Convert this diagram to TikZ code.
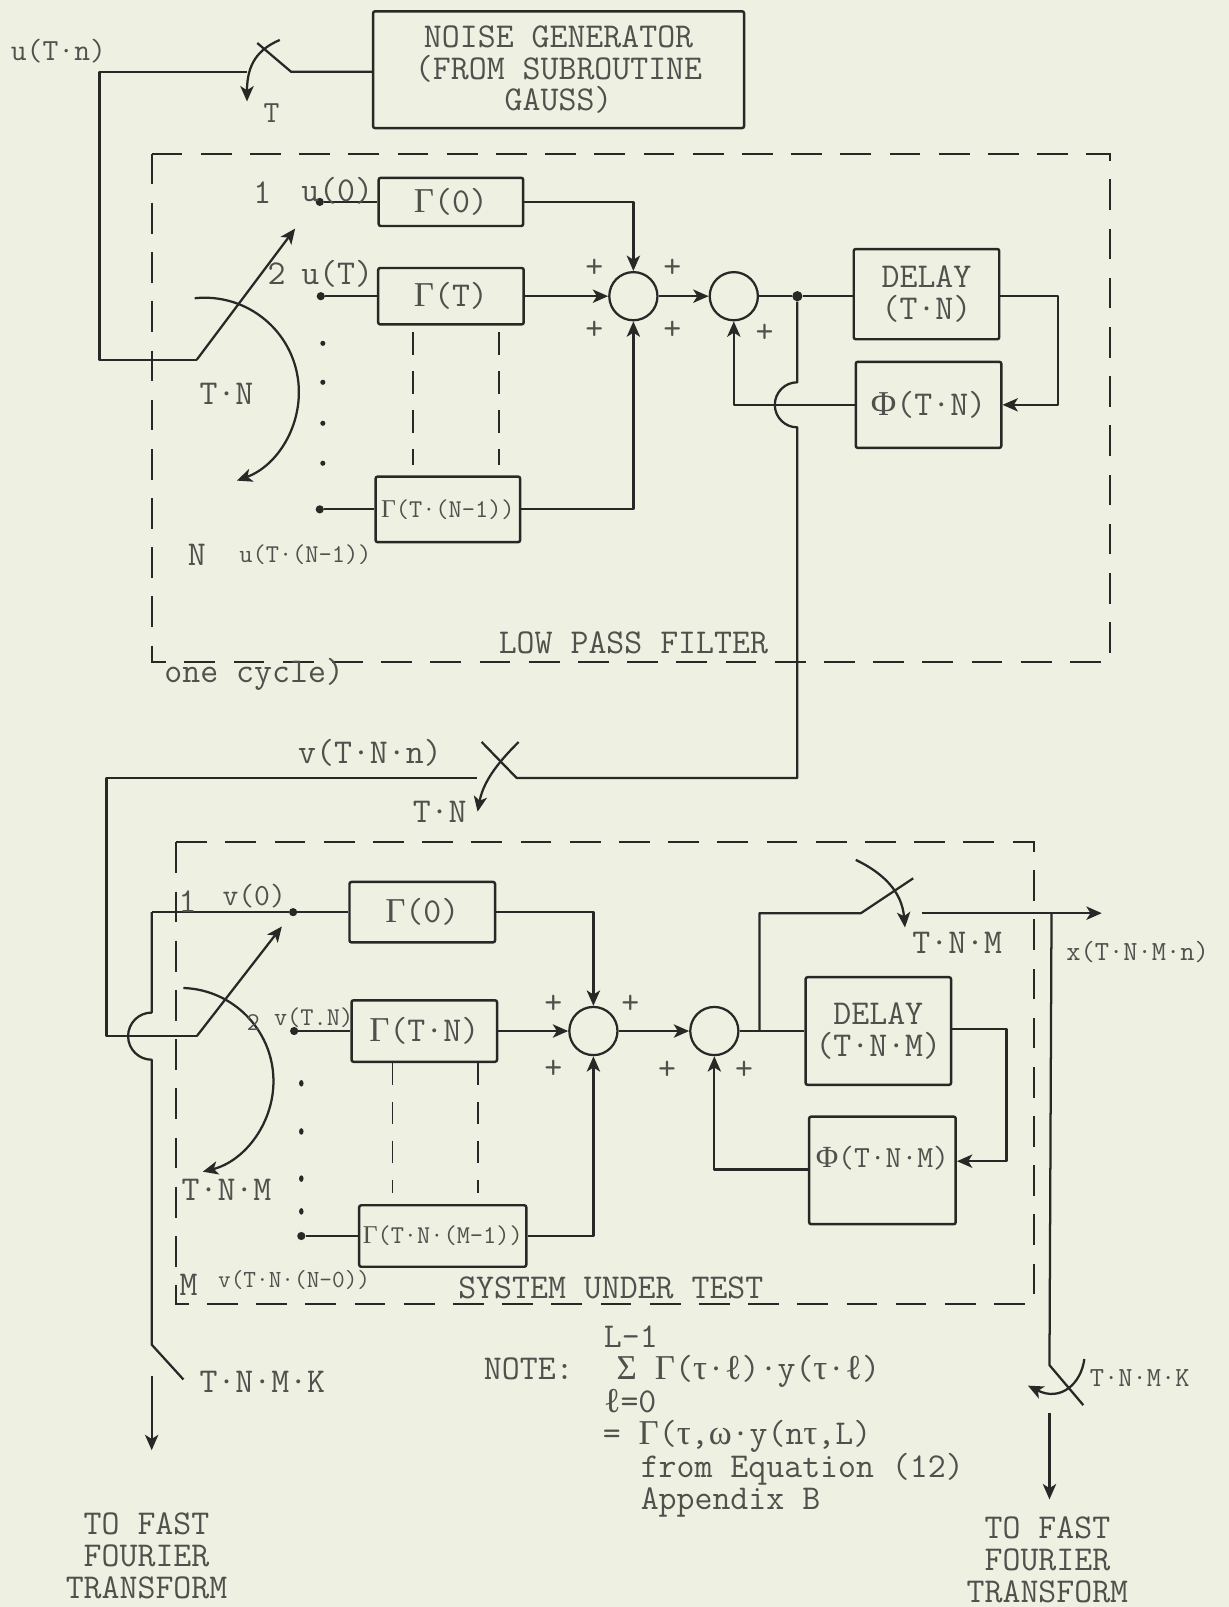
\documentclass[tikz,border=0pt]{standalone}
\usepackage{fontspec}
\newfontfamily\grk{Liberation Serif}
\usetikzlibrary{arrows.meta}
\definecolor{bgc}{RGB}{238,240,226}
\definecolor{ink}{RGB}{40,40,38}
\definecolor{txt}{RGB}{80,80,76}
\newcommand\fbig{\fontsize{34}{31}\selectfont\ttfamily}
\newcommand\fmid{\fontsize{30}{31}\selectfont\ttfamily}
\newcommand\fsm{\fontsize{25}{27}\selectfont\ttfamily}
\newcommand\fxs{\fontsize{27}{29}\selectfont\ttfamily}
\newcommand\Gm{{\grk Γ}}
\newcommand\Ph{{\grk Φ}}
\newcommand\Sg{{\grk Σ}}
\newcommand\ta{{\grk τ}}
\newcommand\om{{\grk ω}}
\newcommand\el{{\grk ℓ}}
\begin{document}
\begin{tikzpicture}[x=1pt,y=-1pt,
  wire/.style={draw=ink,line width=2.2pt,line join=round},
  arr/.style={wire,-{Stealth[length=15pt,width=13pt,inset=4pt]}},
  blk/.style={draw=ink,line width=2.4pt,rounded corners=2pt,inner sep=0pt,text=txt,font=\fbig,align=center},
  sumj/.style={circle,draw=ink,line width=2.2pt,minimum size=47pt,inner sep=0pt},
  lbl/.style={text=txt,font=\fbig,inner sep=0pt,align=center},
  dbox/.style={draw=ink,line width=2pt,dash pattern=on 30pt off 18pt},
  dline/.style={draw=ink,line width=1.8pt,dash pattern=on 22pt off 16pt},
  term/.style={circle,fill=ink,minimum size=8pt,inner sep=0pt},
]
\fill[bgc] (0,0) rectangle (1199,1568);
\useasboundingbox (0,0) rectangle (1199,1568);

% ---------- top: noise generator and sampler ----------
\node[blk,minimum width=362pt,minimum height=114pt] (noise) at (545,68) {NOISE GENERATOR\\(FROM SUBROUTINE\\GAUSS)};
\coordinate (tl) at (97,70);
\coordinate (tsw) at (241,70);
\coordinate (tpiv) at (284,70);
\coordinate (tbl) at (251,42);
\coordinate (p1) at (192,351);
\coordinate (p1t) at (288,223);
\draw[wire] (noise.west |- tpiv) -- (tpiv) -- (tbl);
\draw[wire] (tsw) -- (tl) -- (97,351) -- (p1);
\coordinate (ta0) at (273,39);
\coordinate (ta1) at (241,99);
\draw[arr] (ta0) .. controls (252,48) and (241,62) .. (ta1);
\node[lbl,font=\fmid] (lut) at (57,50) {u(T·n)};
\node[lbl,font=\fmid] (lT) at (265,110) {T};

% ---------- low pass filter ----------
\draw[dbox] (148,150) rectangle (1083,646);
\node[lbl] (llpf) at (618,627) {LOW PASS FILTER};
\node[lbl] (lcyc) at (248,658) {one cycle)};

\node[blk,minimum width=141pt,minimum height=47pt] (ga0) at (440,197) {\Gm(0)};
\node[blk,minimum width=142pt,minimum height=55pt] (ga1) at (440,289) {\Gm(T)};
\node[blk,minimum width=141pt,minimum height=64pt,font=\fsm] (ga2) at (437,497) {\Gm(T·(N-1))};
\node[term] (a0) at (312,197) {};
\node[term] (a1) at (313,289) {};
\node[term] (a2) at (312,497) {};
\draw[wire] (a0) -- (ga0);
\draw[wire] (a1) -- (ga1);
\draw[wire] (a2) -- (ga2);
\node[lbl] (l1) at (256,188) {1};
\node[lbl] (lu0) at (329,186) {u(0)};
\node[lbl] (l2) at (270,267) {2};
\node[lbl] (luT) at (329,267) {u(T)};
\node[lbl] (lN) at (192,541) {N};
\node[lbl,font=\fsm] (luN) at (298,541) {u(T·(N-1))};
\node[lbl] (lTN) at (221,384) {T·N};
\foreach \yy in {335,373,413,452} \fill[ink] (315,\yy) circle (2.5pt);
\draw[dline] (403,324) -- (403,454);
\draw[dline] (487,324) -- (487,454);
\draw[arr] (p1) -- (p1t);
\draw[arr] (190,291) arc[start angle=96,end angle=-70,radius=92pt];

\node[sumj] (s1) at (618,289) {};
\node[sumj] (s2) at (716,289) {};
\draw[arr] (ga0.east) -| (s1.north);
\draw[arr] (ga1) -- (s1);
\draw[arr] (ga2.east) -| (s1.south);
\draw[arr] (s1) -- (s2);
\foreach \xx/\yy in {580/262,656/262,580/322,656/322,746/325} \node[lbl] at (\xx,\yy) {+};
\node[term,minimum size=10pt] (j1) at (778,289) {};
\node[blk,minimum width=142pt,minimum height=88pt] (dl1) at (904,287) {DELAY\\(T·N)};
\node[blk,minimum width=142pt,minimum height=84pt] (ph1) at (906,395) {\Ph(T·N)};
\draw[wire] (s2) -- (j1) -- (dl1.west |- j1);
\coordinate (c1) at (1032,289);
\draw[arr] (dl1.east |- c1) -- (c1) |- (ph1.east);
\coordinate (f1) at (716,395);
\draw[arr] (ph1.west) -- (f1) -- (s2.south);

% ---------- sampler between the blocks ----------
\coordinate (lpiv) at (504,759);
\coordinate (lbld) at (470,724);
\coordinate (lsw) at (465,759);
\coordinate (p2) at (192,1011);
\coordinate (p2t) at (275,904);
\draw[wire] (j1) -- (778,373) arc[start angle=90,end angle=270,radius=22pt] -- (778,759) -- (lpiv) -- (lbld);
\draw[wire] (lsw) -- (104,759) -- (104,1011) -- (p2);
\draw[arr] (506,724) .. controls (490,740) and (472,760) .. (466,792);
\node[lbl] (lvn) at (361,735) {v(T·N·n)};
\node[lbl] (lTN2) at (429,792) {T·N};

% ---------- system under test ----------
\draw[dbox] (172,822) rectangle (1009,1272);
\node[lbl] (lsut) at (596,1257) {SYSTEM UNDER TEST};

\coordinate (v0s) at (148,890);
\node[blk,minimum width=142pt,minimum height=59pt] (gb0) at (412,890) {\Gm(0)};
\node[blk,minimum width=142pt,minimum height=60pt] (gb1) at (414,1006) {\Gm(T·N)};
\node[blk,minimum width=163pt,minimum height=60pt,font=\fsm] (gb2) at (432,1206) {\Gm(T·N·(M-1))};
\node[term] (b0) at (286,890) {};
\node[term] (b1) at (287,1006) {};
\node[term] (b2) at (294,1206) {};
\draw[wire] (v0s) -- (b0) -- (gb0);
\draw[wire] (b1) -- (gb1);
\draw[wire] (b2) -- (gb2);
\draw[wire] (v0s) -- (148,988) arc[start angle=90,end angle=270,radius=23pt] -- (148,1312) -- (179,1346);
\draw[arr] (148,1343) -- (148,1415);
\draw[arr] (p2) -- (p2t);
\draw[arr] (179,964) arc[start angle=88,end angle=-76,radius=91pt];
\node[lbl] (m1) at (183,880) {1};
\node[lbl,font=\fmid] (lv0) at (248,874) {v(0)};
\node[lbl,font=\fsm] (m2) at (247,998) {2};
\node[lbl,font=\fsm] (lvtn) at (306,993) {v(T.N)};
\node[lbl] (lTNM) at (221,1161) {T·N·M};
\node[lbl] (mM) at (184,1254) {M};
\node[lbl,font=\fontsize{24}{26}\selectfont\ttfamily] (lvM) at (287,1249) {v(T·N·(N-0))};
\foreach \yy in {1057,1104,1150,1182} \fill[ink] (294,\yy) ellipse (2.2pt and 3.2pt);
\draw[dline] (383,1037) -- (383,1164);
\draw[dline] (466,1037) -- (466,1164);

\node[sumj] (s3) at (579,1006) {};
\node[sumj] (s4) at (697,1006) {};
\draw[arr] (gb0.east) -| (s3.north);
\draw[arr] (gb1) -- (s3);
\draw[arr] (gb2.east) -| (s3.south);
\draw[arr] (s3) -- (s4);
\foreach \xx/\yy in {540/980,615/980,540/1043,651/1044,726/1044} \node[lbl] at (\xx,\yy) {+};

\node[blk,minimum width=142pt,minimum height=105pt] (dl2) at (857,1006) {DELAY\\(T·N·M)};
\node[blk,minimum width=143pt,minimum height=105pt] (ph2) at (861,1142) {};
\node[lbl,font=\fmid] (ph2t) at (861,1130) {\Ph(T·N·M)};
\coordinate (j2) at (741,1006);
\draw[wire] (s4) -- (dl2);
\coordinate (c2) at (982,1004);
\coordinate (c2b) at (982,1133);
\draw[arr] (dl2.east |- c2) -- (c2) -- (c2b) -- (ph2.east |- c2b);
\coordinate (f2) at (697,1141);
\draw[arr] (ph2.west |- f2) -- (f2) -- (s4.south);

% output sampler
\coordinate (o1) at (741,891);
\coordinate (opiv) at (840,891);
\coordinate (obl) at (891,857);
\coordinate (osw) at (900,891);
\coordinate (oend) at (1075,891);
\draw[wire] (j2) -- (o1) -- (opiv) -- (obl);
\draw[arr] (osw) -- (oend);
\draw[arr] (835,839) .. controls (862,852) and (880,870) .. (883,905);
\node[lbl] (lTNM2) at (934,920) {T·N·M};
\node[lbl,font=\fxs] (lx) at (1110,929) {x(T·N·M·n)};

% right FFT sampler
\coordinate (r1) at (1026,891);
\coordinate (rpiv) at (1024,1332);
\coordinate (rbl) at (1057,1371);
\draw[wire] (r1) -- (rpiv) -- (rbl);
\draw[arr] (1058,1326) .. controls (1055,1350) and (1035,1368) .. (1003,1352);
\draw[arr] (1024,1379) -- (1024,1463);
\node[lbl,font=\fxs] (lK2) at (1112,1345) {T·N·M·K};
\node[lbl] (lK1) at (256,1348) {T·N·M·K};

\node[lbl] (fft1) at (143,1518) {TO FAST\\FOURIER\\TRANSFORM};
\node[lbl] (fft2) at (1022,1522) {TO FAST\\FOURIER\\TRANSFORM};

% note
\node[lbl,align=left,anchor=west,font=\fontsize{34}{31.8}\selectfont\ttfamily] (note) at (472,1387)
  {\hspace*{117pt}L-1\\
   NOTE:\hspace*{42pt}\Sg{} \Gm(\ta·\el)·y(\ta·\el)\\
   \hspace*{117pt}\el=0\\
   \hspace*{116pt}= \Gm(\ta,\om·y(n\ta,L)\\
   \hspace*{153pt}from Equation (12)\\
   \hspace*{153pt}Appendix B};
\end{tikzpicture}
\end{document}
